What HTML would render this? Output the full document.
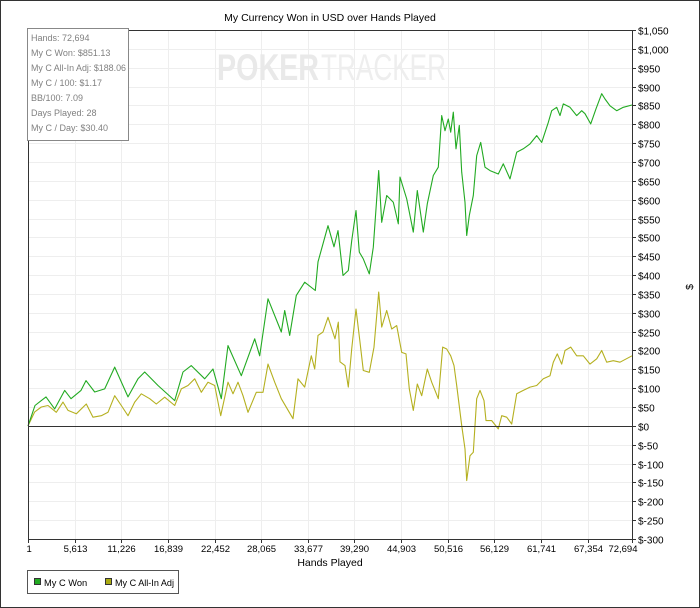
<!DOCTYPE html>
<html><head><meta charset="utf-8"><style>
html,body{margin:0;padding:0;background:#fff;}
svg{display:block;font-family:"Liberation Sans",sans-serif;}
</style></head><body>
<svg id="chart" width="700" height="608" viewBox="0 0 700 608">
<rect x="0.5" y="0.5" width="699" height="607" fill="#fff" stroke="#333"/>
<text x="330" y="21" font-size="10.5" text-anchor="middle" fill="#000">My Currency Won in USD over Hands Played</text>
<g id="grid"></g>
<g>
<text x="217" y="80" font-size="37" font-weight="bold" fill="#e9e9e9" textLength="102" lengthAdjust="spacingAndGlyphs">POKER</text>
<text x="321" y="80" font-size="37" fill="#eeeeee" textLength="125" lengthAdjust="spacingAndGlyphs">TRACKER</text>
</g>
<g id="series"></g>
<g id="axes"></g>
<text x="0" y="0" font-size="10.5" transform="translate(693,287) rotate(-90)" text-anchor="middle">$</text>
<text x="330" y="566" font-size="10.5" text-anchor="middle">Hands Played</text>
<g>
<rect x="27.5" y="28.5" width="101" height="112" fill="#fff" stroke="#888"/>
<g font-size="9" fill="#808080">
<text x="31" y="41">Hands: 72,694</text>
<text x="31" y="56">My C Won: $851.13</text>
<text x="31" y="71" textLength="95" lengthAdjust="spacingAndGlyphs">My C All-In Adj: $188.06</text>
<text x="31" y="86">My C / 100: $1.17</text>
<text x="31" y="101">BB/100: 7.09</text>
<text x="31" y="116">Days Played: 28</text>
<text x="31" y="131">My C / Day: $30.40</text>
</g></g>
<g>
<rect x="27.5" y="570.5" width="151" height="23" fill="#fff" stroke="#555"/>
<g><rect x="34.5" y="578.5" width="6" height="6" fill="#22aa22" stroke="#333"/><text x="44" y="586" font-size="9.3">My C Won</text></g>
<g><rect x="105.5" y="578.5" width="6" height="6" fill="#aaaa11" stroke="#333"/><text x="115" y="586" font-size="9.3" textLength="59" lengthAdjust="spacingAndGlyphs">My C All-In Adj</text></g>
</g>
</svg>
<script>
const xTicks = [1, 5613, 11226, 16839, 22452, 28065, 33677, 39290, 44903, 50516, 56129, 61741, 67354, 72694];
const yMin = -300, yMax = 1050, yStep = 50;
const wonHands = [0,842,1600,2166,3213,4417,5175,6379,6980,8027,9231,10434,12035,13238,14045,15646,17655,18654,19653,21266,22265,23263,24070,25670,27284,27885,28884,30485,30894,31495,32290,33301,34577,34902,36105,36827,37309,37910,38548,38958,39475,39872,40354,41076,41557,42207,42568,43170,43964,44566,44770,45576,46371,46852,47574,48056,48778,49380,49789,50186,50583,50872,51185,51510,51907,52195,52593,52797,53110,53592,54001,54482,55000,55602,56601,57203,58009,58816,59610,60416,61222,61824,62618,63027,63629,64026,64423,65230,66036,66638,67035,67721,68359,69045,69443,70044,70851,71645,72694];
const wonValues = [0,54,67,77,45,94,72,94,120,90,98,156,77,125,143,107,67,143,160,125,151,72,213,133,231,186,337,249,306,240,346,381,359,435,531,475,518,399,412,491,571,461,443,403,474,677,540,611,593,536,660,602,514,624,514,589,664,686,823,783,814,779,832,735,797,673,593,505,558,611,717,752,686,677,668,695,655,726,735,748,770,752,805,836,845,823,854,845,823,836,828,801,841,881,867,849,836,845,851];
const adjHands = [0,806,1600,2407,3406,4212,4814,5813,7016,7823,8822,9628,10434,11229,12035,12841,13636,14647,15441,16452,17655,18449,19256,20062,20857,21663,22469,23191,24070,24672,25274,25875,26477,27476,28282,28884,29690,30485,31893,32495,33301,34095,34505,34902,35503,36105,36948,37345,37549,38151,38548,38958,39475,39956,40354,41076,41641,42207,42568,43170,43771,44373,44975,45492,45889,46371,46852,47382,48056,48585,49380,49909,50390,50872,51269,51594,52195,52593,52797,53195,53592,54001,54398,54880,55121,55807,56601,57010,57612,58213,58816,59610,60416,61222,62016,62823,63220,63701,64231,64628,65314,66036,66831,67637,68443,69045,69647,70441,71248,72694];
const adjValues = [0,37,50,54,36,63,41,32,58,23,27,36,80,54,27,63,85,72,58,76,54,98,107,125,89,116,107,27,116,85,116,80,36,89,89,164,116,72,19,125,103,186,151,240,249,288,231,275,170,160,103,204,310,222,147,142,209,355,262,306,257,266,195,191,98,41,111,80,151,116,72,209,204,186,160,107,1,-61,-145,-79,-70,72,94,67,14,14,-8,27,23,5,85,94,103,107,125,133,169,191,164,200,209,186,186,164,178,200,169,173,169,186];

const L=28,R=632,T=30,B=539, xMax=72694;
const NS='http://www.w3.org/2000/svg';
function sx(h){return L+(h-1)/(xMax-1)*(R-L);}
function sy(v){return T+(yMax-v)/(yMax-yMin)*(B-T);}
function mk(tag,attrs,parent){const e=document.createElementNS(NS,tag);for(const k in attrs)e.setAttribute(k,attrs[k]);parent.appendChild(e);return e;}
const grid=document.getElementById('grid'), axes=document.getElementById('axes'), series=document.getElementById('series');
for(let v=yMin;v<=yMax;v+=yStep){
  const y=Math.round(sy(v))+0.5;
  const gl=mk('line',{x1:L,x2:R,y1:y,y2:y,stroke:'#eeeeee'},grid);
  
  
  const tk=mk('line',{x1:R,x2:R+4,y1:y,y2:y,stroke:'#333'},axes);
  
  
  const lab=mk('text',{x:R+6,y:y+4,'font-size':'10',fill:'#000'},axes);
  lab.textContent=(v<0?'$-':'$')+Math.abs(v).toLocaleString('en-US');
  
  
}
xTicks.forEach((h,i)=>{
  const x=Math.round(sx(h))+0.5;
  const gl=mk('line',{x1:x,x2:x,y1:T,y2:B,stroke:'#eeeeee'},grid);
  
  
  const tk=mk('line',{x1:x,x2:x,y1:B,y2:B+4,stroke:'#333'},axes);
  
  
  const lab=mk('text',{x:x,y:B+13,'font-size':'9.5','text-anchor':i==0?'start':(i==xTicks.length-1?'end':'middle')},axes);
  if(i==0)lab.setAttribute('x',x-2);
  if(i==xTicks.length-1)lab.setAttribute('x',x+5);
  lab.textContent=h.toLocaleString('en-US');
  
  
});
const zl=mk('line',{x1:L,x2:R,y1:Math.round(sy(0))+0.5,y2:Math.round(sy(0))+0.5,stroke:'#333'},axes);


const frame=mk('path',{d:`M${L+0.5},${B}V${T+0.5}H${R+0.5}V${B+0.5}H${L}`,fill:'none',stroke:'#333'},axes);


function line(hs,vs,color,name){
  const d=hs.map((h,i)=>(i?'L':'M')+sx(h).toFixed(1)+','+sy(vs[i]).toFixed(1)).join('');
  const p=mk('path',{d:d,fill:'none',stroke:color,'stroke-width':'1.1','stroke-linejoin':'round'},series);
  
  
}
line(adjHands,adjValues,'#b5b020','all-in-adj-line');
line(wonHands,wonValues,'#22aa22','won-line');
</script>
</body></html>
